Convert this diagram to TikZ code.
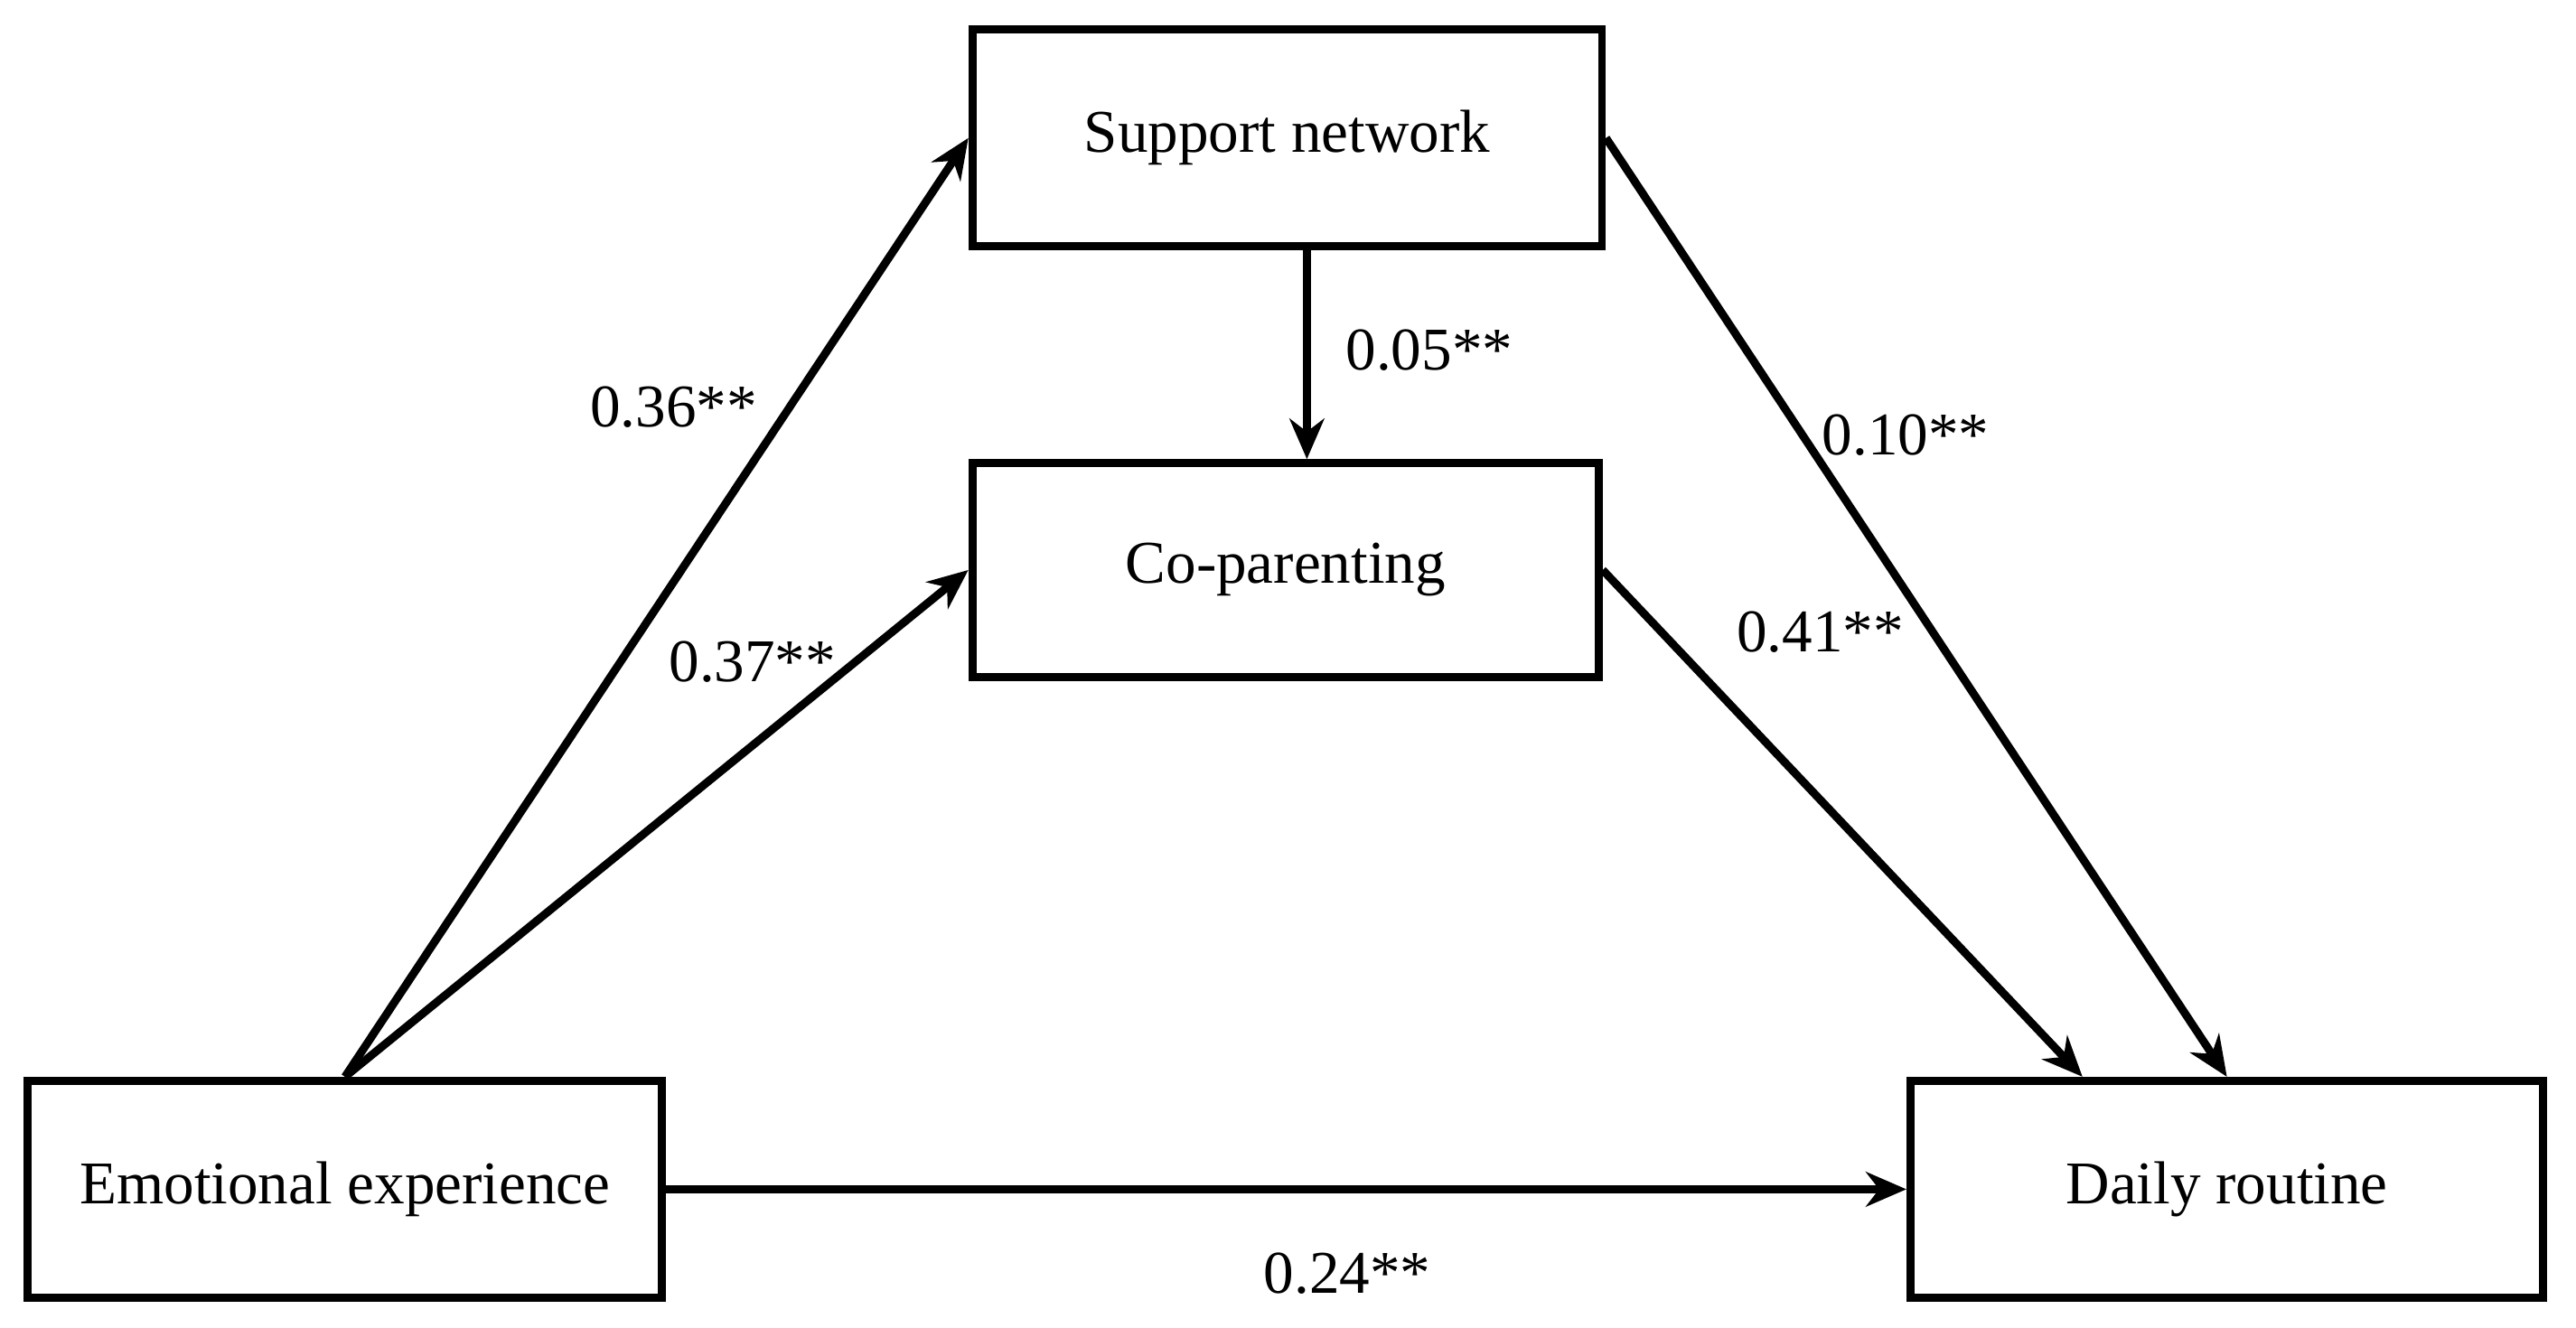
\documentclass[tikz,border=0pt]{standalone}
\usepackage{fontspec}
\setmainfont{Liberation Serif}
\usetikzlibrary{arrows.meta}
\begin{document}
\begin{tikzpicture}[x=0.01cm,y=-0.01cm,
  box/.style={draw,line width=1.4pt,inner sep=0pt,font=\fontsize{10.5}{12}\selectfont},
  arr/.style={line width=1.4pt,-{Stealth[length=7pt,width=6pt]}},
  lab/.style={font=\fontsize{10.5}{12}\selectfont}]
\useasboundingbox (0,0) rectangle (1568,808);
\node[box,minimum width=3.83cm,minimum height=1.32cm] (sn) at (783.5,84) {Support network};
\node[box,minimum width=3.81cm,minimum height=1.30cm] (cp) at (782.5,347) {Co-parenting};
\node[box,minimum width=3.86cm,minimum height=1.32cm] (ee) at (210,724) {Emotional experience};
\node[box,minimum width=3.85cm,minimum height=1.32cm] (dr) at (1355.5,724) {Daily routine};
\draw[arr] (ee.north) -- (sn.west);
\draw[arr] (ee.north) -- (cp.west);
\draw[arr] (sn.south) ++(12,0) coordinate (snB) -- (snB |- cp.north);
\draw[arr] (sn.east) -- (dr.north);
\draw[arr] (cp.east) -- ([xshift=-25]dr.north);
\draw[arr] (ee.east) -- (ee.east -| dr.west);
\node[lab] (l1) at (410,248) {0.36**};
\node[lab] (l2) at (458,403) {0.37**};
\node[lab] (l3) at (870,213) {0.05**};
\node[lab] (l4) at (1160,265) {0.10**};
\node[lab] (l5) at (1108,385) {0.41**};
\node[lab] (l6) at (820,775) {0.24**};
\end{tikzpicture}
\end{document}
